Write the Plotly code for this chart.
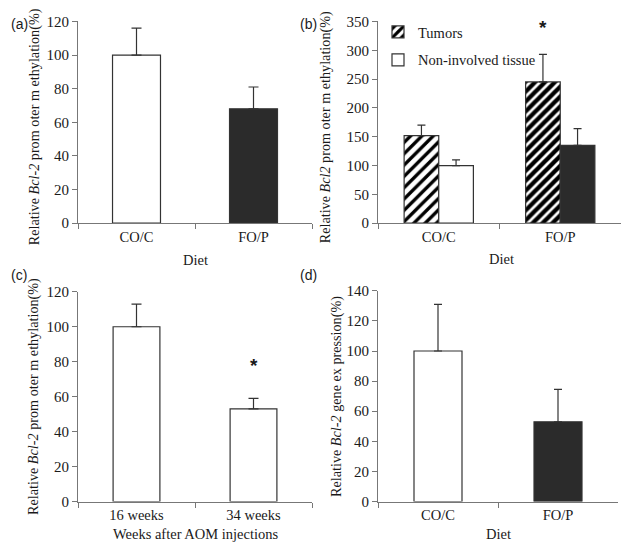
import plotly.graph_objects as go

# Page geometry: figure sits 8px from the left and 16px from the top of a
# page that is photographed at a slight vertical scale; positions below are
# given in the target picture's pixels and converted to paper coordinates.
OX, OY = 8, 16
SY = 549 / 565
W, H = 613, 541

# ---------------- data ----------------
diet_cats = ["CO/C", "FO/P"]
a_values = [100, 68]
a_err = [16, 13]

b_tumor_values = [152, 245]
b_tumor_err = [18, 48]
b_normal_values = [100, 135]
b_normal_err = [10, 29]

week_cats = ["16 weeks", "34 weeks"]
c_values = [100, 53]
c_err = [13, 6]

d_values = [100, 53]
d_err = [31, 21.5]

# significance markers (value positions)
b_star = ("FO/P", 340)
c_star = ("34 weeks", 78)

# ---------------- style ----------------
SERIF = "Liberation Serif"
SANS = "Liberation Sans"
TXT = "#1a1a1a"
AXC = "#777777"
EDGE = "#333333"
DARK = "#2b2b2b"


def px_x(p):
    return min(1.0, max(0.0, (p - OX) / W))


def px_y(p):
    return min(1.0, max(0.0, 1 - (p / SY - OY) / H))


fig = go.Figure()

# panel (a)
fig.add_trace(go.Bar(
    x=diet_cats, y=a_values, width=0.41, xaxis="x", yaxis="y",
    marker=dict(color=["white", DARK], line=dict(color=EDGE, width=1.2)),
    error_y=dict(type="data", array=a_err, arrayminus=[0, 0], symmetric=False,
                 color=EDGE, thickness=1.2, width=5),
    showlegend=False,
))

# panel (b)
fig.add_trace(go.Bar(
    name="Tumors", x=diet_cats, y=b_tumor_values, xaxis="x2", yaxis="y2",
    marker=dict(color="white", line=dict(color=EDGE, width=1.2),
                pattern=dict(shape="/", fgcolor="#000000", bgcolor="white",
                             fgopacity=1, size=[8, 7], solidity=[0.42, 0.62])),
    error_y=dict(type="data", array=b_tumor_err, arrayminus=[0, 0], symmetric=False,
                 color=EDGE, thickness=1.2, width=4),
    legendgroup="tum",
))
fig.add_trace(go.Bar(
    name="Non-involved tissue", x=diet_cats, y=b_normal_values, xaxis="x2", yaxis="y2",
    marker=dict(color=["white", DARK], line=dict(color=EDGE, width=1.2)),
    error_y=dict(type="data", array=b_normal_err, arrayminus=[0, 0], symmetric=False,
                 color=EDGE, thickness=1.2, width=4),
    legendgroup="non",
))

# panel (c)
fig.add_trace(go.Bar(
    x=week_cats, y=c_values, width=0.40, xaxis="x3", yaxis="y3",
    marker=dict(color=["white", "white"], line=dict(color=EDGE, width=1.2)),
    error_y=dict(type="data", array=c_err, arrayminus=[0, 0], symmetric=False,
                 color=EDGE, thickness=1.2, width=5),
    showlegend=False,
))

# panel (d)
fig.add_trace(go.Bar(
    x=diet_cats, y=d_values, width=0.40, xaxis="x4", yaxis="y4",
    marker=dict(color=["white", DARK], line=dict(color=EDGE, width=1.2)),
    error_y=dict(type="data", array=d_err, arrayminus=[0, 0], symmetric=False,
                 color=EDGE, thickness=1.2, width=4),
    showlegend=False,
))


def xax(x0, x1, anchor):
    return dict(domain=[px_x(x0), px_x(x1)], anchor=anchor, type="category",
                range=[-0.5, 1.5], showline=True, linecolor=AXC, linewidth=1,
                ticks="outside", tickson="boundaries", ticklen=5, tickcolor=AXC,
                showgrid=False, zeroline=False,
                tickfont=dict(family=SERIF, size=14.5, color=TXT))


def yax(y_top, y_bot, rng, dtick, anchor):
    return dict(domain=[px_y(y_bot), px_y(y_top)], anchor=anchor, range=rng,
                dtick=dtick, showline=True, linecolor=AXC, linewidth=1,
                ticks="outside", ticklen=5, tickcolor=AXC, showgrid=False,
                zeroline=False, tickfont=dict(family=SERIF, size=15, color=TXT))


layout = dict(
    width=W, height=H, margin=dict(l=0, r=0, t=0, b=0),
    paper_bgcolor="white", plot_bgcolor="white",
    barmode="group", bargap=0.43, bargroupgap=0,
    xaxis=xax(78, 312, "y"), yaxis=yax(21, 223, [0, 120], 20, "x"),
    xaxis2=xax(378, 625, "y2"), yaxis2=yax(21, 223, [0, 350], 50, "x2"),
    xaxis3=xax(78, 312, "y3"), yaxis3=yax(291.7, 501.7, [0, 120], 20, "x3"),
    xaxis4=xax(378, 618, "y4"), yaxis4=yax(290.7, 501.7, [0, 140], 20, "x4"),
    legend=dict(x=px_x(378), y=1.0, xanchor="left", yanchor="top",
                bgcolor="rgba(0,0,0,0)", tracegroupgap=6, itemwidth=30,
                font=dict(family=SERIF, size=14.5, color=TXT)),
    showlegend=True,
)
fig.update_layout(**layout)

ann = []
# panel labels
for lab, x, y in [("(a)", 9, 24), ("(b)", 298, 24), ("(c)", 9, 275), ("(d)", 298, 275)]:
    ann.append(dict(text=lab, x=px_x(x), y=px_y(y), xref="paper", yref="paper",
                    showarrow=False, xanchor="left", yanchor="middle",
                    font=dict(family=SANS, size=14, color=TXT)))

# y titles
for txt, x, yc in [
    ("Relative <i>Bcl-2</i> prom oter m ethylation(%)", 34, 127),
    ("Relative <i>Bcl2</i> prom oter m ethylation(%)", 325, 127),
    ("Relative <i>Bcl-2</i> prom oter m ethylation(%)", 34, 397),
    ("Relative <i>Bcl-2</i> gene ex pression(%)", 337, 397),
]:
    ann.append(dict(text=txt, x=px_x(x), y=px_y(yc), xref="paper", yref="paper",
                    showarrow=False, textangle=-90, xanchor="center", yanchor="middle",
                    font=dict(family=SERIF, size=14.2, color=TXT)))

# x titles
for txt, x, y in [("Diet", 195, 260), ("Diet", 501, 259),
                  ("Weeks after AOM injections", 195, 534), ("Diet", 498, 534)]:
    ann.append(dict(text=txt, x=px_x(x), y=px_y(y), xref="paper", yref="paper",
                    showarrow=False, xanchor="center", yanchor="middle",
                    font=dict(family=SERIF, size=14.5, color=TXT)))

# significance stars
ann.append(dict(text="<b>*</b>", x=b_star[0], y=b_star[1], xref="x2", yref="y2",
                showarrow=False, xshift=-17.5, yanchor="middle",
                font=dict(family=SANS, size=19, color=TXT)))
ann.append(dict(text="<b>*</b>", x=c_star[0], y=c_star[1], xref="x3", yref="y3",
                showarrow=False, yanchor="middle",
                font=dict(family=SANS, size=19, color=TXT)))

fig.update_layout(annotations=ann)

fig.write_html("out.html")
